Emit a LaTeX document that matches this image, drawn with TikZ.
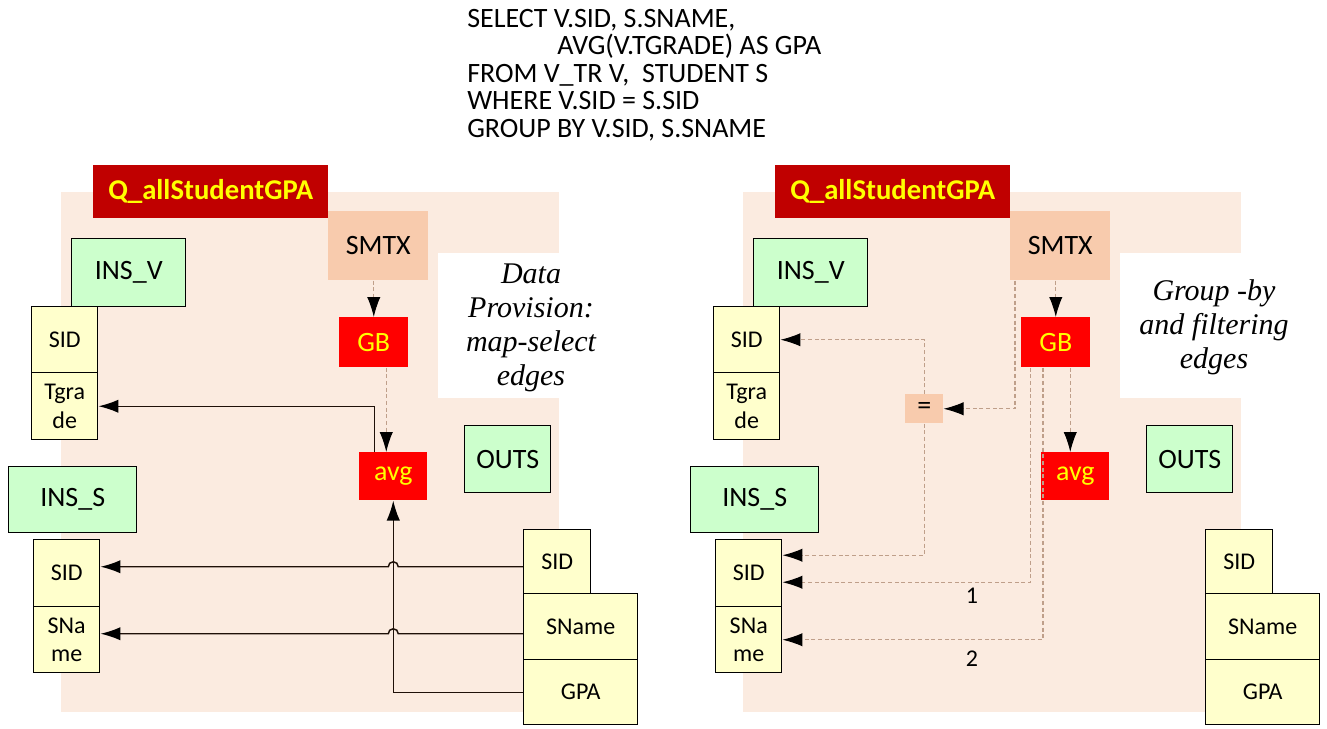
\documentclass[tikz,border=0pt]{standalone}
\usepackage{fontspec}
\setmainfont{Carlito}
\newfontfamily\itfont{Liberation Serif}
\usetikzlibrary{arrows.meta,calc}
\newlength\px \setlength\px{0.75pt}
\definecolor{qred}{HTML}{C00000}
\definecolor{yel}{HTML}{FFFF00}
\definecolor{peach}{HTML}{F8CBAD}
\definecolor{lgreen}{HTML}{CCFFCC}
\definecolor{lyellow}{HTML}{FFFFCC}
\definecolor{bgc}{HTML}{FBEBE0}
\definecolor{dashc}{HTML}{BF9F8A}
\definecolor{darkline}{HTML}{1E1008}
\tikzset{
  nb/.style={inner sep=0pt, anchor=north west, font=\fontsize{21}{24}\selectfont},
  qbox/.style={nb, fill=qred, text=yel, font=\fontsize{21.5}{24}\selectfont\bfseries},
  smtxbox/.style={nb, fill=peach},
  greenbox/.style={nb, fill=lgreen, draw=black, line width=1.1pt},
  yelbox/.style={nb, fill=lyellow, draw=black, line width=1.1pt, align=center, font=\fontsize{18}{21.5}\selectfont},
  redbox/.style={nb, fill=red, text=yel},
  soline/.style={draw=darkline, line width=1.1pt, -{Latex[length=15pt,width=10pt,color=black]}},
  daline/.style={draw=dashc, line width=0.8pt, dash pattern=on 3pt off 2pt, -{Latex[length=15pt,width=10pt,color=black]}},
  sqltext/.style={anchor=base west, inner sep=0pt, font=\fontsize{21}{24}\selectfont},
  ittext/.style={anchor=base, inner sep=0pt, font=\itfont\fontsize{22.5}{26}\selectfont\itshape},
  numlbl/.style={anchor=base, inner sep=0pt, font=\fontsize{18}{20}\selectfont}
}
\newcommand\drawpanel[2]{%
  \fill[bgc] (61+#1,192) rectangle (559+#1,712);
  \fill[white] (438+#1,253) rectangle (559+#1,398);
  \node[qbox, minimum width=235\px, minimum height=53\px] (q#2) at (93+#1,165) {Q\_allStudentGPA};
  \node[smtxbox, minimum width=100\px, minimum height=69\px] (smtx#2) at (328+#1,211) {SMTX};
  \node[greenbox, minimum width=114\px, minimum height=68\px] (insV#2) at (71+#1,238) {INS\_V};
  \node[yelbox, minimum width=66\px, minimum height=66\px] (sidV#2) at (31+#1,306) {SID};
  \node[yelbox, minimum width=66\px, minimum height=67\px] (tgr#2) at (31+#1,372) {Tgra\\de};
  \node[redbox, minimum width=69\px, minimum height=50\px] (gb#2) at (339+#1,317) {GB};
  \node[redbox, minimum width=68\px, minimum height=48\px] (avg#2) at (359+#1,452) {avg};
  \node[greenbox, minimum width=86\px, minimum height=67\px] (outs#2) at (464+#1,425) {OUTS};
  \node[greenbox, minimum width=128\px, minimum height=66\px] (insS#2) at (8+#1,466) {INS\_S};
  \node[yelbox, minimum width=66\px, minimum height=67\px] (sidS#2) at (33+#1,539) {SID};
  \node[yelbox, minimum width=66\px, minimum height=66\px] (sna#2) at (33+#1,606) {SNa\\me};
  \node[yelbox, minimum width=67\px, minimum height=64\px] (oSID#2) at (523+#1,529) {SID};
  \node[yelbox, minimum width=114\px, minimum height=66\px] (oSN#2) at (523+#1,593) {SName};
  \node[yelbox, minimum width=114\px, minimum height=65\px] (oGPA#2) at (523+#1,659) {GPA};
}
\begin{document}
\begin{tikzpicture}[x=0.75pt,y=-0.75pt]
\useasboundingbox[fill=white] (0,0) rectangle (1327,728);
% SQL text
\node[sqltext] (sql1) at (467,27) {SELECT V.SID, S.SNAME,};
\node[sqltext] (sql2) at (557,54.6) {AVG(V.TGRADE) AS GPA};
\node[sqltext] (sql3) at (467,82.2) {FROM V\_TR V,\ \ STUDENT S};
\node[sqltext] (sql4) at (467,109.8) {WHERE V.SID = S.SID};
\node[sqltext] (sql5) at (467,137.4) {GROUP BY V.SID, S.SNAME};
% panels
\drawpanel{0}{L}
\drawpanel{682}{R}
% left texts
\node[ittext] (tL1) at (531,283) {Data};
\node[ittext] (tL2) at (531,317) {Provision:};
\node[ittext] (tL3) at (531,351) {map-select};
\node[ittext] (tL4) at (531,385) {edges};
% right texts
\node[ittext] (tR1) at (1214,300) {Group -by};
\node[ittext] (tR2) at (1214,334) {and filtering};
\node[ittext] (tR3) at (1214,368) {edges};
% left connectors
\draw[daline] (gbL.north |- smtxL.south) -- (gbL.north);
\draw[daline] ([xshift=-7\px]avgL.north |- gbL.south) -- ([xshift=-7\px]avgL.north);
\draw[soline] ([xshift=-19\px]avgL.north) |- (tgrL.east);
\draw[soline] (oGPAL.west) -| (avgL.south);
\draw[soline] ([yshift=-5\px]oSIDL.west) coordinate (ha)
  -- ($(avgL.south |- ha)+(5,0)$) arc[start angle=0,end angle=180,radius=5\px]
  -- (sidSL.east |- ha);
\draw[soline] ([yshift=-7\px]oSNL.west) coordinate (hb)
  -- ($(avgL.south |- hb)+(5,0)$) arc[start angle=0,end angle=180,radius=5\px]
  -- (snaL.east |- hb);
% right connectors
\node[smtxbox, minimum width=38\px, minimum height=29\px] (eq) at (905,394) {=};
\draw[daline] (gbR.north |- smtxR.south) -- (gbR.north);
\draw[daline] ([xshift=-5\px]avgR.north |- gbR.south) -- ([xshift=-5\px]avgR.north);
\draw[daline] ([xshift=5\px]smtxR.south west) |- (eq.east);
\draw[daline] (eq.north) |- (sidVR.east);
\draw[daline] (eq.south) |- ([yshift=18\px]sidSR.east);
\draw[daline] ([xshift=9.5\px]gbR.south west) |- ([yshift=-9\px]sidSR.east);
\draw[daline] ([xshift=22\px]gbR.south west) |- (snaR.east);
\node[numlbl] (n1) at (972,603) {1};
\node[numlbl] (n2) at (972,666) {2};
\end{tikzpicture}
\end{document}
